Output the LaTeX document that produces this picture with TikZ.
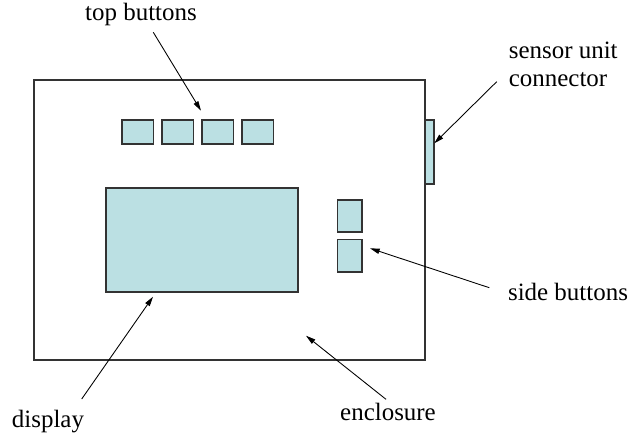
\documentclass[tikz,border=0pt]{standalone}
\usepackage{fontspec}
\setmainfont{Liberation Serif}
\newfontfamily\labelfont{Liberation Serif}
\usetikzlibrary{arrows.meta,calc}
\definecolor{panelcyan}{RGB}{187,224,227}
\tikzset{
  part/.style={draw=black!80, fill=panelcyan, line width=0.6pt},
  pointer/.style={-{Triangle[length=5.5pt,width=3pt]}, line width=0.5pt},
  lbl/.style={inner sep=0pt, anchor=base, font=\labelfont\fontsize{14.2}{17}\selectfont},
}

\begin{document}
\begin{tikzpicture}[x=0.02cm, y=-0.02cm]
		%%%%% START %%%%%
		\useasboundingbox (0,0) rectangle (631,440);
		
		\draw[draw=black!80, line width=0.6pt] (34,80) rectangle (425,360);
		\draw[part] (425.5,120) rectangle (434,184);
		
		\foreach \x in {122,162,202,242}
			\draw[part] (\x,120) rectangle ++(31.5,24);
		
		\draw[part] (106,188) rectangle (298,292);
		
		\draw[part] (337.5,200) rectangle (362,232);
		\draw[part] (337.5,239.5) rectangle (362,272);
		
		\node[lbl] (toplbl) at (141,20.7) {top buttons};
		\node[lbl, anchor=base west] (senslbl) at (508.5,58.3) {sensor unit};
		\node[lbl, anchor=base west] (connlbl) at (508.5,86.7) {connector};
		\node[lbl, anchor=base west] (sidelbl) at (507.7,300) {side buttons};
		\node[lbl] (displbl) at (48,427.7) {display};
		\node[lbl] (enclbl) at (388,420) {enclosure};
		
		\coordinate (toptip) at (201,110.7);
		\coordinate (conntip) at (434.3,143.3);
		\coordinate (sidetip) at (370,248.3);
		\coordinate (disptip) at (153,296.7);
		\coordinate (enctip) at (306,335.7);
		
		\draw[pointer] ($(toplbl.base)+(12.3,11.6)$) -- (toptip);
		\draw[pointer] ($(connlbl.base west)+(-11.8,-5)$) -- (conntip);
		\draw[pointer] ($(sidelbl.base west)+(-18.4,-12.3)$) -- (sidetip);
		\draw[pointer] ($(displbl.base)+(33.7,-28.7)$) -- (disptip);
		\draw[pointer] ($(enclbl.base)+(-2,-20.7)$) -- (enctip);
		
		%%%%% END %%%%%
	\end{tikzpicture}
\end{document}
